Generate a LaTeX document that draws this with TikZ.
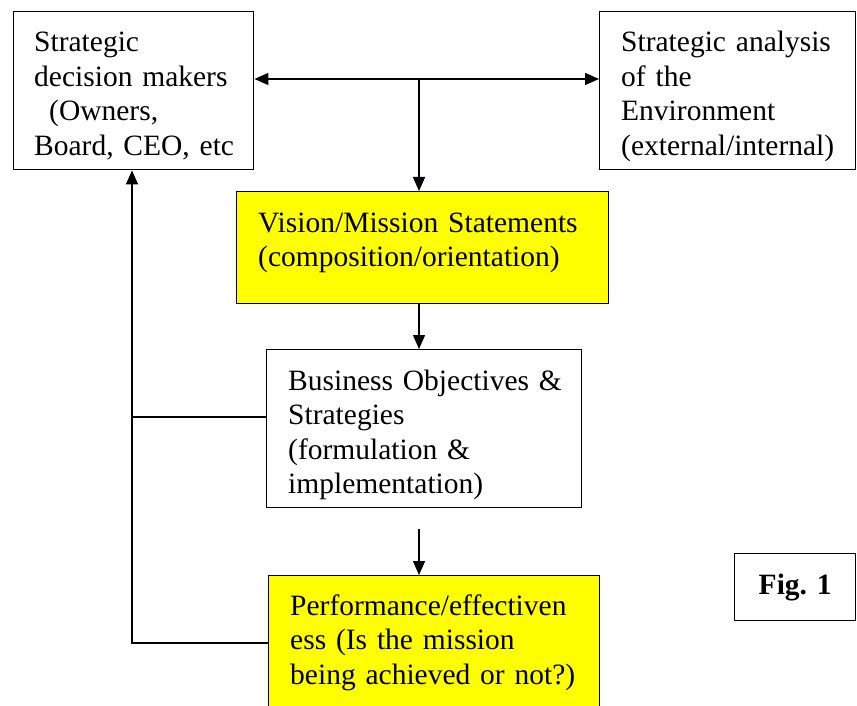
\documentclass[tikz,border=0pt]{standalone}
\usepackage{fontspec}
\setmainfont{Liberation Serif}
\usetikzlibrary{arrows.meta,calc}
\definecolor{boxyellow}{RGB}{255,255,0}
\tikzset{
  boxnode/.style={draw=black,line width=1.4pt,inner sep=0pt,anchor=north west},
  yellowbox/.style={boxnode,fill=boxyellow},
  txt/.style={anchor=base west,inner sep=0pt,text width=400pt,align=left,
              font=\fontsize{29.5}{34.5}\selectfont},
  conn/.style={line width=1.4pt},
  arr/.style={conn,-{Triangle[length=14pt,width=12pt]}},
  darr/.style={conn,{Triangle[length=14pt,width=12pt]}-{Triangle[length=14pt,width=12pt]}}
}
\begin{document}
\begin{tikzpicture}[x=1pt,y=-1pt]
\useasboundingbox (0,0) rectangle (857,706);
\clip (0,0) rectangle (857,706);
\fill[white] (0,0) rectangle (857,706);

% boxes
\node[boxnode,minimum width=240pt,minimum height=158pt] (b1) at (13,11) {};
\node[boxnode,minimum width=256pt,minimum height=158pt] (b2) at (599,11) {};
\node[yellowbox,minimum width=372pt,minimum height=112pt] (b3) at (236,191) {};
\node[boxnode,minimum width=315pt,minimum height=158pt] (b4) at (266,349) {};
\node[yellowbox,minimum width=331pt,minimum height=145pt] (b5) at (268,575) {};
\node[boxnode,minimum width=121pt,minimum height=67pt] (fig) at (734,553) {};

% texts
\node[txt] (t1) at ($(b1.north west)+(21,41)$) {Strategic\\decision makers\\\hspace*{15pt}(Owners,\\Board, CEO, etc};
\node[txt] (t2) at ($(b2.north west)+(22,41)$) {Strategic analysis\\of the\\Environment\\(external/internal)};
\node[txt] (t3) at ($(b3.north west)+(22,41)$) {Vision/Mission Statements\\(composition/orientation)};
\node[txt] (t4) at ($(b4.north west)+(22,41)$) {Business Objectives \&\\Strategies\\(formulation \&\\implementation)};
\node[txt] (t5) at ($(b5.north west)+(22,40)$) {Performance/effectiven\\ess (Is the mission\\being achieved or not?)};
\node[inner sep=0pt,font=\fontsize{29.5}{34.5}\selectfont\bfseries] (t6) at (fig.center) {Fig. 1};

% junction coordinates
\coordinate (j) at (419,79);
\coordinate (s5) at (419,529);
\coordinate (k) at (132,643);
\coordinate (m) at (132,417);

% connectors
\draw[darr] (b1.east |- j) -- (b2.west |- j);
\draw[arr] (j) -- (j |- b3.north);
\draw[arr] (b3.south -| j) -- (b4.north -| j);
\draw[arr] (s5) -- (b5.north -| s5);
\draw[arr] (b5.west |- k) -- (k) -- (k |- b1.south);
\draw[conn] (b4.west |- m) -- (m);
\end{tikzpicture}
\end{document}
